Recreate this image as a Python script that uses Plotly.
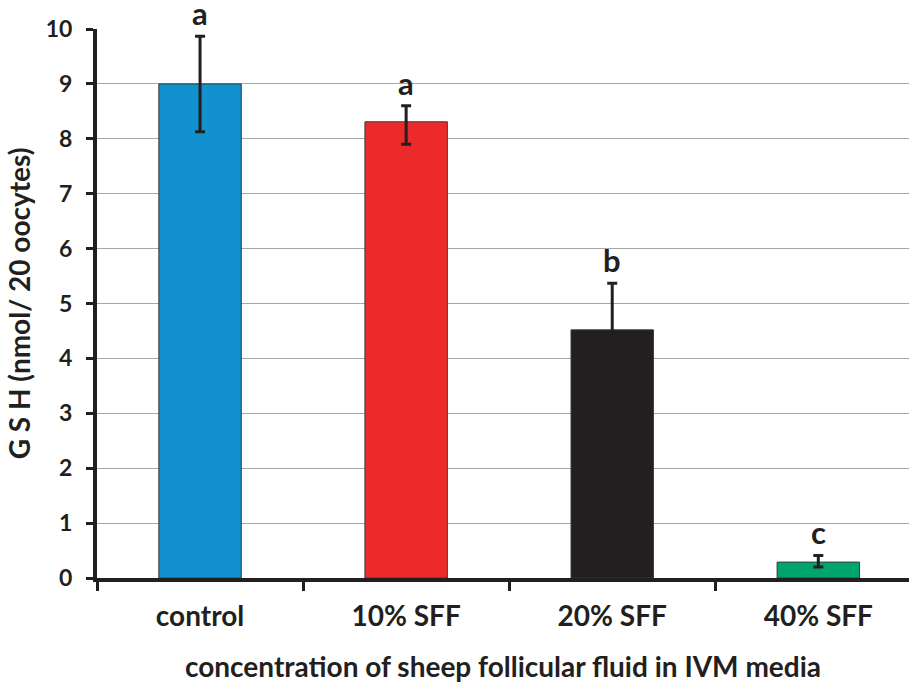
import plotly.graph_objects as go

categories = ["control", "10% SFF", "20% SFF", "40% SFF"]
gsh_values = [9.0, 8.31, 4.52, 0.29]
err_plus = [0.87, 0.29, 0.85, 0.12]
err_minus = [0.87, 0.41, 0.85, 0.09]
sig_letters = ["a", "a", "b", "c"]
bar_colors = ["#1191CD", "#ED2A2A", "#231F20", "#00A56E"]

FONT = "Lato"
INK = "#231F20"

fig = go.Figure()
fig.add_trace(go.Bar(
    x=categories, y=gsh_values, width=0.40,
    marker=dict(color=bar_colors, line=dict(color="#3a3a3a", width=1)),
    error_y=dict(type="data", symmetric=False, array=err_plus, arrayminus=err_minus,
                 color=INK, thickness=3, width=5),
    showlegend=False,
))

for c, v, e, t in zip(categories, gsh_values, err_plus, sig_letters):
    fig.add_annotation(x=c, y=v + e, text=t, showarrow=False, yanchor="bottom",
                       height=26, yshift=8,
                       font=dict(family=FONT, size=31, color=INK, weight="bold"))

fig.update_layout(
    width=909, height=684,
    margin=dict(l=97, r=0, t=29, b=106),
    paper_bgcolor="white", plot_bgcolor="white",
    font=dict(family=FONT, color=INK, weight="bold"),
    bargap=0.6,
)
fig.update_xaxes(
    type="category", range=[-0.5, 3.44], tickson="boundaries", automargin=False,
    ticks="outside", ticklen=9, tickwidth=3, tickcolor=INK,
    showline=True, linewidth=4, linecolor=INK, showgrid=False,
    ticklabelstandoff=10,
    tickfont=dict(family=FONT, size=28, color=INK, weight="bold"),
    title=dict(text="concentration of sheep follicular fluid in IVM media",
               font=dict(family=FONT, size=28, color=INK, weight="bold"), standoff=28),
)
fig.update_yaxes(
    range=[0, 10], dtick=1, tickmode="linear", automargin=False,
    ticks="outside", ticklen=7, tickwidth=3, tickcolor=INK,
    showline=True, linewidth=4, linecolor=INK,
    showgrid=True, gridcolor="#A6A6A6", gridwidth=1, zeroline=False,
    ticklabelstandoff=9,
    tickfont=dict(family=FONT, size=23, color=INK, weight="bold"),
    title=dict(text="G S H (nmol/ 20 oocytes)",
               font=dict(family=FONT, size=28, color=INK, weight="bold"), standoff=8),
)

fig.write_html("out.html", config={"displayModeBar": False},
               post_script="document.body.style.margin='0';document.body.style.overflow='hidden';")
